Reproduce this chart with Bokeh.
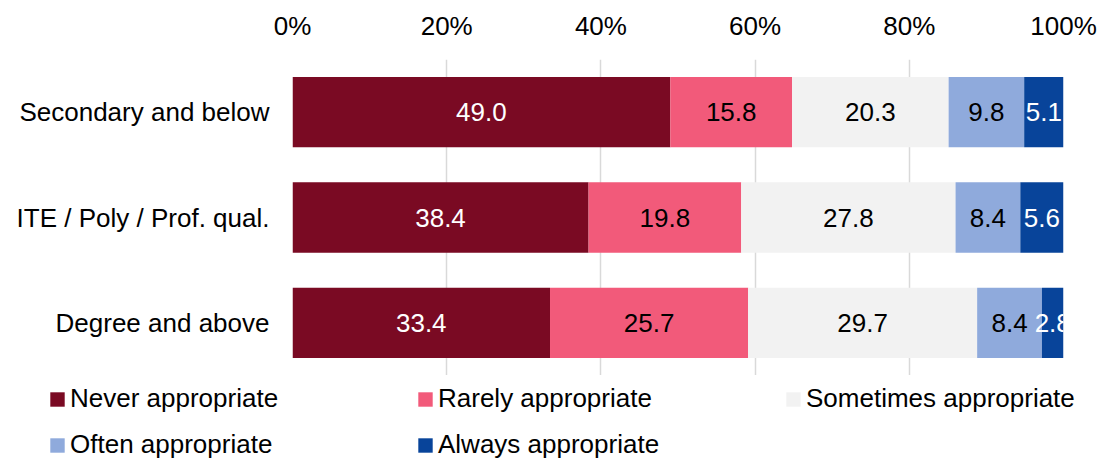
from bokeh.plotting import figure
from bokeh.models import (FactorRange, Range1d, FixedTicker, CustomJSTickFormatter,
                          Legend, LegendItem, ColumnDataSource)
from bokeh.layouts import column
from bokeh.core.properties import value
from bokeh.embed import file_html
from bokeh.resources import INLINE

categories = ["Secondary and below", "ITE / Poly / Prof. qual.", "Degree and above"]
series = ["Never appropriate", "Rarely appropriate", "Sometimes appropriate",
          "Often appropriate", "Always appropriate"]
never = [49.0, 38.4, 33.4]
rarely = [15.8, 19.8, 25.7]
sometimes = [20.3, 27.8, 29.7]
often = [9.8, 8.4, 8.4]
always = [5.1, 5.6, 2.8]
tick_values = [0, 20, 40, 60, 80, 100]

colors = ["#7A0A23", "#F25A7A", "#F2F2F2", "#8FAADC", "#08449A"]
label_colors = ["white", "black", "black", "black", "white"]
FONT = "Liberation Sans"
FS = "26px"

values = [never, rarely, sometimes, often, always]

p = figure(width=1100, height=375, output_backend="svg", toolbar_location=None,
           y_range=FactorRange(factors=list(reversed(categories)), range_padding=0),
           x_range=Range1d(0, 100), x_axis_location="above",
           min_border_left=292, min_border_right=37, min_border_top=59, min_border_bottom=0)
p.frame_align = False
p.outline_line_color = None
p.background_fill_color = "white"
p.border_fill_color = "white"

data = {"cat": categories}
for s, v in zip(series, values):
    data[s] = v
src = ColumnDataSource(data)
renderers = p.hbar_stack(series, y="cat", height=0.667, color=colors, source=src, line_color=None)

# data labels centred in each segment
for i, (s, v) in enumerate(zip(series, values)):
    starts = [sum(values[k][j] for k in range(i)) for j in range(len(categories))]
    mids = [st + val / 2 for st, val in zip(starts, v)]
    p.text(x=mids, y=categories, text=[f"{val:.1f}" for val in v],
           text_color=label_colors[i], text_align="center", text_baseline="middle",
           text_font=value(FONT), text_font_size=FS)

xa = p.xaxis[0]
xa.ticker = FixedTicker(ticks=tick_values)
xa.formatter = CustomJSTickFormatter(code="return tick.toFixed(0) + '%';")
xa.axis_line_color = None
xa.major_tick_line_color = None
xa.minor_tick_line_color = None
xa.major_tick_out = 0
xa.major_label_standoff = 19
xa.major_label_text_font = FONT
xa.major_label_text_font_size = FS
xa.major_label_text_color = "black"

ya = p.yaxis[0]
ya.axis_line_color = None
ya.major_tick_line_color = None
ya.major_tick_out = 0
ya.major_label_standoff = 23
ya.major_label_text_font = FONT
ya.major_label_text_font_size = FS
ya.major_label_text_color = "black"

p.ygrid.grid_line_color = None
p.xgrid.ticker = FixedTicker(ticks=tick_values)
p.xgrid.grid_line_color = "#D9D9D9"
p.xgrid.grid_line_width = 1.5

# legend figure below the chart (its swatch bars lie outside its visible range)
p2 = figure(width=1100, height=86, output_backend="svg", toolbar_location=None,
            x_range=Range1d(0, 1), y_range=Range1d(0, 1),
            min_border=0)
p2.frame_align = False
p2.axis.visible = False
p2.grid.visible = False
p2.outline_line_color = None
leg_renderers = [p2.hbar(y=[-10], left=[-11], right=[-10], height=0.5, color=c, line_color=None)
                 for c in colors]
items = [LegendItem(label=s, renderers=[r]) for s, r in zip(series, leg_renderers)]
legend = Legend(items=items, ncols=3, orientation="horizontal",
                location=(48, 1),
                glyph_width=18, glyph_height=18, label_standoff=4,
                label_width=331, label_height=30, spacing=15,
                padding=0, margin=0, border_line_color=None, background_fill_alpha=0,
                label_text_font=FONT, label_text_font_size=FS, label_text_color="black")
p2.add_layout(legend, "center")

open("out.html", "w").write(file_html(column(p, p2, spacing=0), INLINE))
